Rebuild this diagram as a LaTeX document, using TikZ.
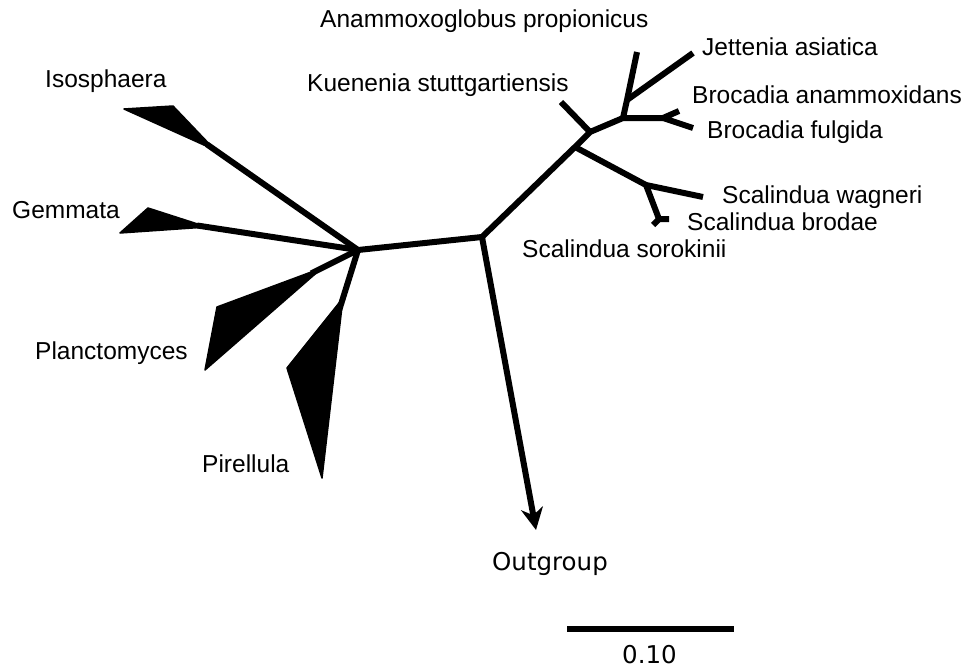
\documentclass[tikz,border=0pt]{standalone}
\usepackage{fontspec}
\setmainfont{Liberation Sans}
\newfontfamily\dejavu{DejaVu Sans}
\usepackage{tikz}
\usetikzlibrary{arrows.meta}

\tikzset{
  branch/.style={line width=6pt, line join=round},
  clade/.style={fill=black, draw=black, line width=1.5pt, line join=round},
  taxon/.style={anchor=base west, inner sep=0pt, font=\fontsize{24.5}{29}\selectfont},
  bigtaxon/.style={anchor=base west, inner sep=0pt, font=\dejavu\fontsize{24.5}{29}\selectfont}
}

\begin{document}
\begin{tikzpicture}[x=1pt, y=-1pt]
      \useasboundingbox (0, 0) rectangle (966, 669);

      \coordinate (l)  at (358, 250);
      \coordinate (m)  at (482, 237);
      \coordinate (a1) at (575, 147);
      \coordinate (a2) at (590, 132);
      \coordinate (a3) at (623, 118);
      \coordinate (a4) at (627, 100);
      \coordinate (b)  at (663, 118);
      \coordinate (s1) at (646, 185);
      \coordinate (s2) at (659, 219);

      \coordinate (kue) at (561, 102);
      \coordinate (ana) at (637, 52);
      \coordinate (jet) at (693, 53);
      \coordinate (bra) at (679, 111);
      \coordinate (brf) at (693, 128);
      \coordinate (scw) at (703, 197);
      \coordinate (scb) at (669, 219);
      \coordinate (scs) at (653, 225);
      \coordinate (og)  at (536, 530);

      \coordinate (iso) at (215, 150);
      \coordinate (gem) at (207, 227);
      \coordinate (pla) at (322, 268);
      \coordinate (pir) at (343, 298);

      \draw [clade] (iso) -- (173, 106) -- (124, 109) -- cycle;
      \draw [clade] (gem) -- (148, 208) -- (120, 233) -- cycle;
      \draw [clade] (pla) -- (217, 307) -- (205, 370) -- cycle;
      \draw [clade] (pir) -- (287, 368) -- (322, 478) -- cycle;

      \draw [branch, shorten <=-10pt] (iso) -- (l);
      \draw [branch, shorten <=-10pt] (gem) -- (l);
      \draw [branch, shorten <=-12pt] (pla) -- (l);
      \draw [branch, shorten <=-12pt] (pir) -- (l);
      \draw [branch] (l) -- (m) -- (a1) -- (a2) -- (a3) -- (b);
      \draw [branch] (a2) -- (kue);
      \draw [branch] (a3) -- (a4) -- (ana);
      \draw [branch] (a4) -- (jet);
      \draw [branch] (bra) -- (b) -- (brf);
      \draw [branch] (a1) -- (s1) -- (scw);
      \draw [branch] (s1) -- (s2) -- (scb);
      \draw [branch] (s2) -- (scs);
      \draw [branch, -{Stealth[length=22pt, width=22pt, inset=7pt]}] (m) -- (og);

      \node [taxon] (t-ana) at (320, 28)  {Anammoxoglobus propionicus};
      \node [taxon] (t-jet) at (702, 56)  {Jettenia asiatica};
      \node [taxon] (t-kue) at (307, 92)  {Kuenenia stuttgartiensis};
      \node [taxon] (t-bra) at (692, 103) {Brocadia anammoxidans};
      \node [taxon] (t-brf) at (707, 138) {Brocadia fulgida};
      \node [taxon] (t-scw) at (722, 203) {Scalindua wagneri};
      \node [taxon] (t-scb) at (687, 230) {Scalindua brodae};
      \node [taxon] (t-scs) at (522, 257) {Scalindua sorokinii};
      \node [taxon] (t-iso) at (45, 87)   {Isosphaera};
      \node [taxon] (t-gem) at (12, 218)  {Gemmata};
      \node [taxon] (t-pla) at (35, 359)  {Planctomyces};
      \node [taxon] (t-pir) at (202, 472) {Pirellula};
      \node [bigtaxon] (t-og) at (492, 570) {Outgroup};

      \coordinate (bar-a) at (567, 629);
      \coordinate (bar-b) at (734, 629);
      \draw [line width=6pt] (bar-a) -- (bar-b);
      \node [bigtaxon] (t-bar) at (622, 663) {0.10};
    \end{tikzpicture}
\end{document}
